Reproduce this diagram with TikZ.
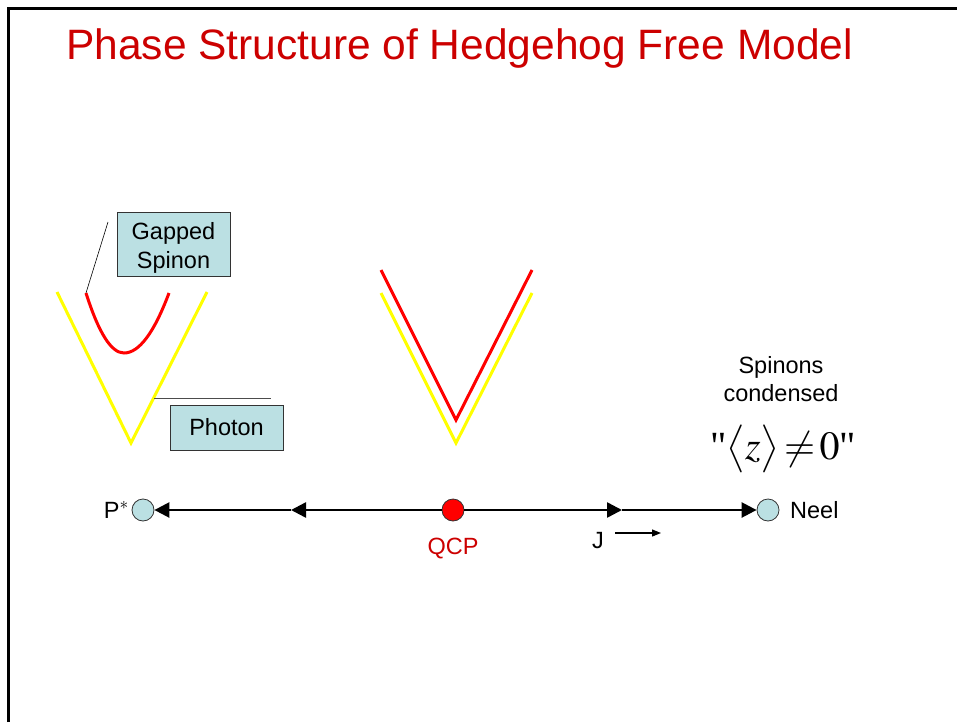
\documentclass[tikz,border=0pt]{standalone}
\usepackage{mathptmx}
\usepackage{fontspec}
\setmainfont{Liberation Sans}
\newfontfamily\serifq{Liberation Serif}
\usetikzlibrary{arrows.meta}
\definecolor{titlered}{RGB}{204,0,0}
\definecolor{boxblue}{RGB}{187,224,227}
\definecolor{ylw}{RGB}{255,255,0}
\tikzset{
  lbl/.style={font=\fontsize{23.5pt}{28.5pt}\selectfont, inner sep=0pt, align=center},
  infobox/.style={draw=black!80, line width=0.8pt, fill=boxblue, inner sep=0pt, font=\fontsize{23.5pt}{28.5pt}\selectfont, align=center},
  pt/.style={circle, draw=black!80, line width=0.8pt, minimum size=22pt, inner sep=0pt},
  yline/.style={draw=ylw, line width=3pt},
  rline/.style={draw=red, line width=3pt},
  axis/.style={line width=2.5pt, -{Triangle[length=15pt,width=15pt]}},
  thin/.style={line width=0.6pt}
}
\begin{document}
\begin{tikzpicture}[x=1pt,y=-1pt]
\useasboundingbox (0,0) rectangle (957,722);
% frame
\draw[line width=3pt] (8.5,722) -- (8.5,8.5) -- (957,8.5);
% title
\node[anchor=base west, inner sep=0pt, text=titlered, font=\fontsize{42.5pt}{48pt}\selectfont] (title) at (66,60) {Phase Structure of Hedgehog Free Model};
% left dispersion
\draw[yline] (57,292) -- (131,443) -- (207,292);
\draw[rline] (86,293) .. controls (98.7,333) and (111.3,353) .. (124,353) .. controls (139,353) and (154,333) .. (169,293);
\node[infobox, minimum width=113pt, minimum height=64pt] (gs) at (173.5,244) {};
\node[lbl] (gst) at (173.5,248) {Gapped\\Spinon};
\coordinate (gsleft) at (108,222);
\coordinate (parend) at (86,293);
\draw[thin] (gsleft) -- (parend);
\node[infobox, minimum width=113pt, minimum height=45pt] (ph) at (226.5,427.5) {Photon};
\coordinate (phA) at (154,398);
\coordinate (phB) at (271,398);
\draw[thin, draw=black!70] (phA) -- (phB);
% middle dispersion
\draw[rline] (381,270) -- (456,420) -- (532,270);
\draw[yline] (381,293) -- (456,443) -- (532,293);
% spinons condensed
\node[lbl] (sc) at (781,379) {Spinons\\condensed};
\node[inner sep=0pt, anchor=base] (zexp) at (783,459) {\fontsize{40pt}{44pt}\selectfont\serifq"$\big\langle z\big\rangle\!\neq\! 0$"};
% axis
\node[pt, fill=boxblue] (pstar) at (143,510) {};
\node[pt, fill=red] (qcp) at (453,510) {};
\node[pt, fill=boxblue] (neel) at (768,510) {};
\coordinate (ml) at (291,510);
\coordinate (mr) at (622,510);
\draw[axis] (qcp) -- (ml);
\draw[axis] (ml) -- (pstar);
\draw[axis] (qcp) -- (mr);
\draw[axis] (mr) -- (neel);
\node[lbl, anchor=east] (pl) at (129,510) {P$^{*}$};
\node[lbl, anchor=west] (nl) at (790,510) {Neel};
\node[lbl, text=titlered] (ql) at (453,549) {QCP};
\node[lbl] (jl) at (598,541) {J};
\coordinate (ja) at (615,533);
\coordinate (jb) at (661,533);
\draw[line width=1.2pt, -{Triangle[length=9pt,width=7pt]}] (ja) -- (jb);
\end{tikzpicture}
\end{document}
